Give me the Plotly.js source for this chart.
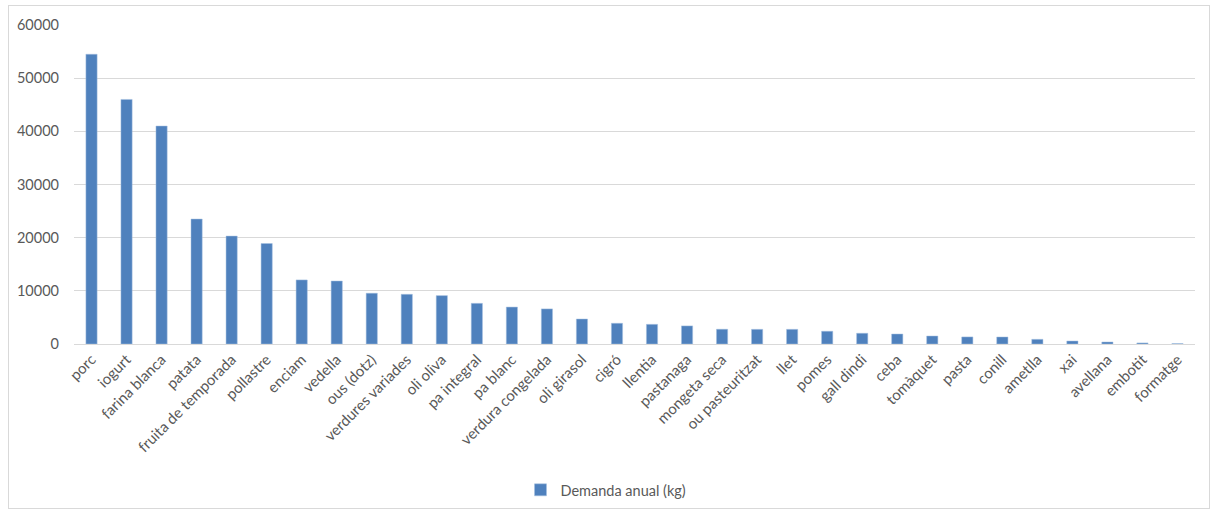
<!DOCTYPE html>
<html>
<head>
<meta charset="utf-8">
<script src="https://cdn.plot.ly/plotly-3.0.1.min.js"></script>
<style>
html,body{margin:0;padding:0;background:#fff;}
#frame{position:absolute;left:8px;top:5px;width:1200px;height:502px;border:1px solid #d9d9d9;}
#chart{width:1200px;height:502px;}
</style>
</head>
<body>
<div id="frame"><div id="chart"></div></div>
<script>
const categories = ["porc","iogurt","farina blanca","patata","fruita de temporada","pollastre","enciam","vedella","ous (dotz)","verdures variades","oli oliva","pa integral","pa blanc","verdura congelada","oli girasol","cigró","llentia","pastanaga","mongeta seca","ou pasteuritzat","llet","pomes","gall dindi","ceba","tomàquet","pasta","conill","ametlla","xai","avellana","embotit","formatge"];
const demanda = [54500,46000,41000,23500,20300,18900,12050,11850,9550,9350,9100,7650,6950,6600,4700,3900,3700,3400,2780,2760,2760,2400,2020,1880,1500,1330,1320,880,560,380,200,80];
const yTicks = [0,10000,20000,30000,40000,50000,60000];
const seriesName = "Demanda anual (kg)";

const fontFam = "Lato, 'Open Sans', 'Liberation Sans', sans-serif";
Plotly.newPlot("chart", [{
  type: "bar",
  x: categories,
  y: demanda,
  name: seriesName,
  marker: {color: "#4F81BD", line: {color: "#a7c0e0", width: 0.5}},
  showlegend: true
}], {
  width: 1200, height: 502,
  margin: {l: 65, r: 14, t: 19, b: 164},
  paper_bgcolor: "#fff", plot_bgcolor: "#fff",
  bargap: 0.68,
  font: {family: fontFam, size: 14.5, color: "#595959"},
  xaxis: {
    type: "category",
    tickangle: -45,
    automargin: false,
    showgrid: false,
    showline: true, linecolor: "#d9d9d9", linewidth: 1,
    ticks: "",
    tickfont: {family: fontFam, size: 15, color: "#595959"},
    fixedrange: true
  },
  yaxis: {
    range: [0, 60000],
    automargin: false,
    tickvals: yTicks,
    ticktext: yTicks.map(String),
    showgrid: true, gridcolor: "#d9d9d9", gridwidth: 1,
    zeroline: false,
    showline: false,
    ticks: "",
    ticklabelstandoff: 14,
    tickfont: {family: fontFam, size: 14.5, color: "#595959"},
    fixedrange: true
  },
  showlegend: true,
  legend: {
    orientation: "h",
    xref: "container", yref: "container",
    x: 0.4975, xanchor: "center",
    y: 0.036, yanchor: "middle",
    font: {family: fontFam, size: 14.5, color: "#595959"}
  }
}, {displayModeBar: false, staticPlot: true});
</script>
</body>
</html>
